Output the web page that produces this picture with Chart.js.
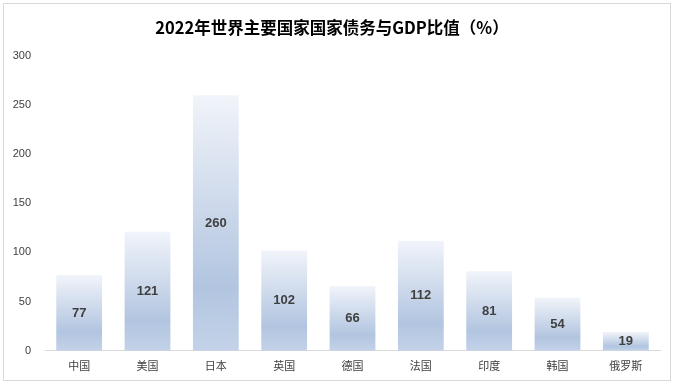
<!DOCTYPE html>
<html>
<head>
<meta charset="utf-8">
<script src="https://cdn.jsdelivr.net/npm/chart.js@4"></script>
<style>
body{margin:0;background:#fff;}
#box{position:absolute;left:3px;top:3px;width:666px;height:376px;border:1px solid #d9d9d9;background:#fff;}
</style>
</head>
<body>
<div id="box"><canvas id="debtChart" width="666" height="376"></canvas></div>
<script>
const countries = ["中国","美国","日本","英国","德国","法国","印度","韩国","俄罗斯"];
const debtRatio = [77,121,260,102,66,112,81,54,19];
const yTicks = [0,50,100,150,200,250,300];

/* gradient per bar */
function barFill(context){
const chart = context.chart;
const scales = chart.scales;
if(!chart.chartArea || !scales.y) return "#b3c6e0";
const top = scales.y.getPixelForValue(context.raw);
const bottom = scales.y.getPixelForValue(0);
if(!isFinite(top) || !isFinite(bottom)) return "#b3c6e0";
const g = chart.ctx.createLinearGradient(0, top, 0, bottom);
g.addColorStop(0, "#f1f4fa");
g.addColorStop(0.75, "#b2c5e0");
g.addColorStop(1, "#c3d2e8");
return g;
}

/* value labels in the middle of the bars */
const valueLabels = {
id: "valueLabels",
afterDatasetsDraw(chart){
const ctx = chart.ctx;
const meta = chart.getDatasetMeta(0);
ctx.save();
ctx.font = "bold 13px 'Liberation Sans', Arial, sans-serif";
ctx.fillStyle = "#404040";
ctx.textAlign = "center";
ctx.textBaseline = "middle";
meta.data.forEach((bar, i) => {
ctx.fillText(debtRatio[i], bar.x, (bar.y + bar.base) / 2);
});
ctx.restore();
}
};

new Chart(document.getElementById("debtChart"), {
type: "bar",
data: {
labels: countries,
datasets: [{
label: "债务与GDP比值",
data: debtRatio,
backgroundColor: barFill,
borderWidth: 0,
categoryPercentage: 1,
barPercentage: 0.67
}]
},
options: {
responsive: false,
animation: false,
layout: { padding: { left: 0, right: 10, top: 10, bottom: 0 } },
plugins: {
legend: { display: false },
tooltip: { enabled: false },
title: {
display: true,
text: "2022年世界主要国家国家债务与GDP比值（%）",
color: "#000",
font: { family: "'Noto Sans CJK SC', sans-serif", size: 16.5, weight: "bold" },
padding: { top: 4, bottom: 18 }
}
},
scales: {
x: {
grid: { display: false, drawTicks: false },
border: { display: true, color: "#d9d9d9", width: 1 },
ticks: {
color: "#404040",
padding: 8,
font: { family: "'Noto Sans CJK SC', sans-serif", size: 11 }
}
},
y: {
min: 0,
max: 300,
afterBuildTicks(axis){ axis.ticks = yTicks.map(v => ({ value: v })); },
afterFit(axis){ axis.width = 41; },
grid: { display: false, drawTicks: false },
border: { display: false },
ticks: {
color: "#404040",
padding: 14,
font: { family: "'Liberation Sans', Arial, sans-serif", size: 11 }
}
}
}
},
plugins: [valueLabels]
});
</script>
</body>
</html>
